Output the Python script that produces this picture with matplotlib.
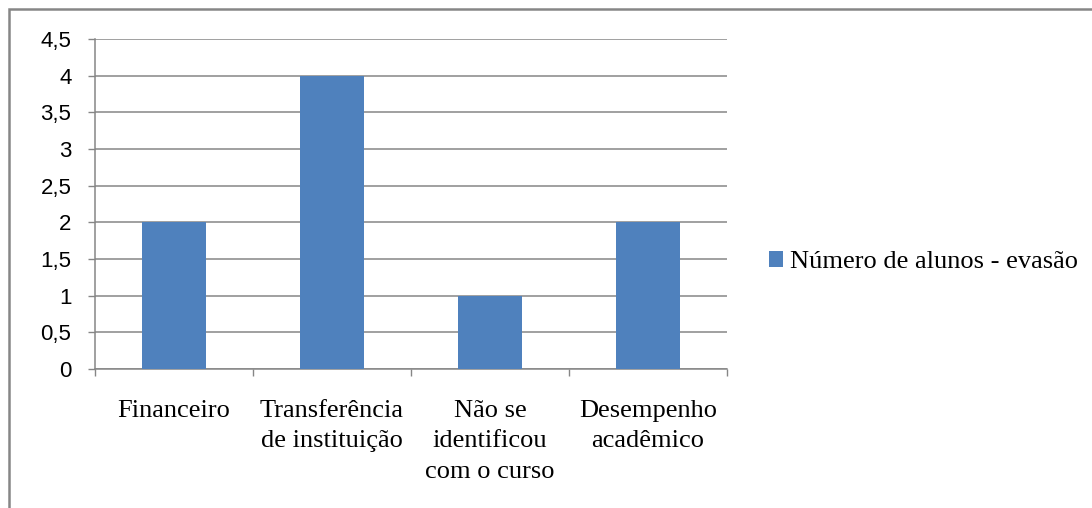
import matplotlib.pyplot as plt
import numpy as np
from matplotlib.patches import Rectangle

# ----------------------------------------------------------
# Data
# ----------------------------------------------------------

CATEGORIES = [
    "Financeiro",
    "Transferência\nde instituição",
    "Não se\nidentificou\ncom o curso",
    "Desempenho\nacadêmico",
]
VALUES = [2, 4, 1, 2]
SERIES_LABEL = "Número de alunos - evasão"
Y_TICKS = [0, 0.5, 1, 1.5, 2, 2.5, 3, 3.5, 4, 4.5]
Y_TICK_LABELS = ["0", "0,5", "1", "1,5", "2", "2,5", "3", "3,5", "4", "4,5"]

BAR_COLOR = "#4F81BD"
GRID_COLOR = "#868686"
SERIF = ["Liberation Serif", "DejaVu Serif"]
SANS = ["Liberation Sans", "DejaVu Sans"]

W, H = 1092, 508


def main():
    fig = plt.figure(figsize=(W / 100, H / 100), dpi=100)
    ax = fig.add_axes([95 / W, 1 - 369 / H, (727 - 95) / W, (369 - 39) / H])

    # outer chart border (clipped at right and bottom as in the reference)
    fig.patches.append(Rectangle(
        (9 / W, -0.1), 1.2, 1 - 9 / H + 0.1,
        transform=fig.transFigure, fill=False,
        edgecolor=GRID_COLOR, linewidth=1.8, zorder=0,
    ))

    x = np.arange(len(CATEGORIES))
    ax.bar(x, VALUES, width=0.4, color=BAR_COLOR, zorder=3,
           label=SERIES_LABEL)

    ax.set_xlim(-0.5, len(CATEGORIES) - 0.5)
    ax.set_ylim(0, 4.5)

    ax.set_yticks(Y_TICKS)
    ax.set_yticklabels(Y_TICK_LABELS, family=SANS, fontsize=16)
    ax.tick_params(axis="y", length=5, width=1, color=GRID_COLOR, pad=12)

    ax.set_xticks(x)
    ax.set_xticklabels(CATEGORIES, family=SERIF, fontsize=19)
    ax.tick_params(axis="x", which="major", length=0, pad=22)
    ax.set_xticks(np.arange(len(CATEGORIES) + 1) - 0.5, minor=True)
    ax.tick_params(axis="x", which="minor", length=5, width=1,
                   color=GRID_COLOR)
    for label in ax.get_xticklabels():
        label.set_linespacing(1.5)

    ax.yaxis.grid(True, color=GRID_COLOR, linewidth=1.1, zorder=0)
    ax.set_axisbelow(True)

    for side in ("top", "right"):
        ax.spines[side].set_visible(False)
    for side in ("left", "bottom"):
        ax.spines[side].set_color(GRID_COLOR)
        ax.spines[side].set_linewidth(1.1)

    fig.legend(
        loc="center left",
        bbox_to_anchor=(758 / W, 1 - 262 / H),
        frameon=False,
        prop={"family": SERIF, "size": 19},
        handlelength=0.55,
        handleheight=0.55,
        handletextpad=0.25,
        borderaxespad=0,
    )

    fig.savefig("out.png", dpi=100)


if __name__ == "__main__":
    main()
